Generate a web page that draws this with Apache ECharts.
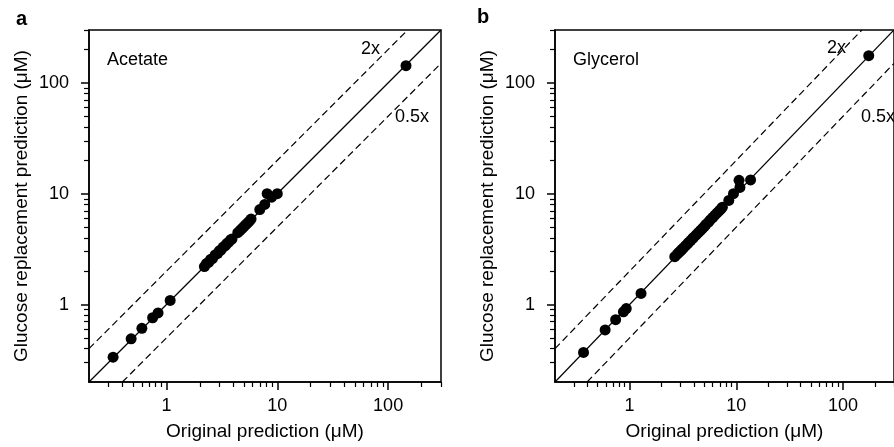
<!DOCTYPE html>
<html>
<head>
<meta charset="utf-8">
<script src="https://cdn.jsdelivr.net/npm/echarts@6/dist/echarts.min.js"></script>
<style>html,body{margin:0;padding:0;background:#fff;}#c{width:894px;height:447px;}</style>
</head>
<body>
<div id="c"></div>
<script>
// ---- data ----
const acetateX = [0.33,0.48,0.60,0.75,0.84,1.08,
  2.2,2.3,2.4,2.5,2.6,2.75,2.9,3.0,3.1,3.25,3.4,3.5,3.65,3.8,3.9,4.4,4.6,4.8,5.0,5.2,5.4,5.6,5.8,
  6.95,7.7,8.1,8.9,10.0,145];
const acetateY = [0.335,0.49,0.61,0.76,0.84,1.09,
  2.2,2.35,2.4,2.55,2.6,2.8,2.9,3.05,3.1,3.3,3.4,3.55,3.65,3.85,3.9,4.45,4.65,4.85,5.05,5.25,5.45,5.65,5.9,
  7.2,8.0,10.0,9.3,10.0,143];
const glycerolX = [0.37,0.59,0.74,0.875,0.93,1.28,
  2.65,2.8,2.9,3.0,3.1,3.2,3.35,3.5,3.6,3.75,3.9,4.0,4.2,4.4,4.6,4.8,5.0,5.2,5.5,5.7,6.0,6.3,6.6,6.9,7.2,7.4,
  8.5,9.4,10.8,10.6,13.6,174];
const glycerolY = [0.37,0.59,0.73,0.86,0.92,1.26,
  2.7,2.85,2.95,3.05,3.15,3.25,3.4,3.55,3.65,3.8,3.95,4.05,4.25,4.45,4.65,4.85,5.05,5.3,5.55,5.8,6.1,6.4,6.7,7.0,7.3,7.55,
  8.7,10.0,11.4,13.2,13.3,176];
const panelNames = ['Acetate','Glycerol'];
const panelLetters = ['a','b'];
const ratios = [1, 2, 0.5];
const ratioLabels = ['2x','0.5x'];
const axisMin = 0.2, axisMax = 300;
const majorTicks = [1,10,100];
const minorTicks = [0.3,0.4,0.5,0.6,0.7,0.8,0.9,2,3,4,5,6,7,8,9,20,30,40,50,60,70,80,90,200,300];
const xTitle = 'Original prediction (\u03bcM)';
const yTitle = 'Glucose replacement prediction (\u03bcM)';

// ---- chart ----
const FONT = '"Liberation Sans", Arial, Helvetica, sans-serif';
const chart = echarts.init(document.getElementById('c'), null, {renderer:'canvas'});

const grids = [
  {left:89, top:30, width:352, height:352},
  {left:555, top:30, width:351, height:352}
];

function zip(xs, ys){ return xs.map((x,i)=>[x, ys[i]]); }
function refLine(r){
  // endpoints of y = r*x clipped to the axis range
  const x0 = Math.max(axisMin, axisMin / r), x1 = Math.min(axisMax, axisMax / r);
  return [[x0, r*x0],[x1, r*x1]];
}

const xAxes = [], yAxes = [], series = [];
grids.forEach((g, gi) => {
  const common = {type:'log', logBase:10, gridIndex:gi, min:axisMin, max:axisMax, splitLine:{show:false}};
  xAxes.push(Object.assign({}, common, {
    position:'bottom',
    axisLine:{show:true, lineStyle:{color:'#000', width:1.5}},
    axisTick:{show:true, customValues:majorTicks, length:8, lineStyle:{color:'#000', width:1.5}},
    axisLabel:{customValues:majorTicks, color:'#000', fontSize:18, fontFamily:FONT, margin:15},
    name:xTitle, nameLocation:'middle', nameGap:40,
    nameTextStyle:{color:'#000', fontSize:19, fontFamily:FONT}
  }));
  xAxes.push(Object.assign({}, common, {
    position:'bottom',
    axisLine:{show:false},
    axisTick:{show:true, customValues:minorTicks, length:5, lineStyle:{color:'#000', width:1.2}},
    axisLabel:{show:false}
  }));
  yAxes.push(Object.assign({}, common, {
    position:'left',
    axisLine:{show:true, lineStyle:{color:'#000', width:1.5}},
    axisTick:{show:true, customValues:majorTicks, length:8, lineStyle:{color:'#000', width:1.5}},
    axisLabel:{customValues:majorTicks, color:'#000', fontSize:18, fontFamily:FONT, margin:20},
    name:yTitle, nameLocation:'middle', nameGap:58,
    nameTextStyle:{color:'#000', fontSize:19, fontFamily:FONT}
  }));
  yAxes.push(Object.assign({}, common, {
    position:'left',
    axisLine:{show:false},
    axisTick:{show:true, customValues:minorTicks, length:5, lineStyle:{color:'#000', width:1.2}},
    axisLabel:{show:false}
  }));
  const xi = gi*2, yi = gi*2;
  ratios.forEach((r, ri) => {
    series.push({
      type:'line', xAxisIndex:xi, yAxisIndex:yi, data:refLine(r), symbol:'none', silent:true,
      lineStyle:{color:'#000', width:1.2, type: r === 1 ? 'solid' : [7,4]}, z:2, animation:false
    });
  });
  const xs = gi === 0 ? acetateX : glycerolX;
  const ys = gi === 0 ? acetateY : glycerolY;
  series.push({
    type:'scatter', xAxisIndex:xi, yAxisIndex:yi, data:zip(xs, ys),
    symbol:'circle', symbolSize:11, itemStyle:{color:'#000', opacity:1}, z:5, animation:false
  });
});

const textEl = (txt, x, y, opts) => Object.assign({
  type:'text', x:x, y:y,
  style:Object.assign({text:txt, font:'18px ' + FONT, fill:'#000', align:'left', verticalAlign:'middle'}, (opts||{}))
});

const graphics = [
  textEl(panelLetters[0], 16, 19, {font:'bold 20px ' + FONT}),
  textEl(panelLetters[1], 477, 17, {font:'bold 20px ' + FONT}),
  textEl(panelNames[0], 107, 60),
  textEl(panelNames[1], 573, 60),
  textEl(ratioLabels[0], 361, 49),
  textEl(ratioLabels[1], 395, 117),
  textEl(ratioLabels[0], 827, 48),
  textEl(ratioLabels[1], 861, 117)
];

chart.setOption({
  backgroundColor:'#fff',
  animation:false,
  grid: grids.map(g => Object.assign({show:true, borderColor:'#000', borderWidth:1.5, backgroundColor:'transparent', containLabel:false}, g)),
  xAxis: xAxes,
  yAxis: yAxes,
  series: series,
  graphic: graphics
});
</script>
</body>
</html>
